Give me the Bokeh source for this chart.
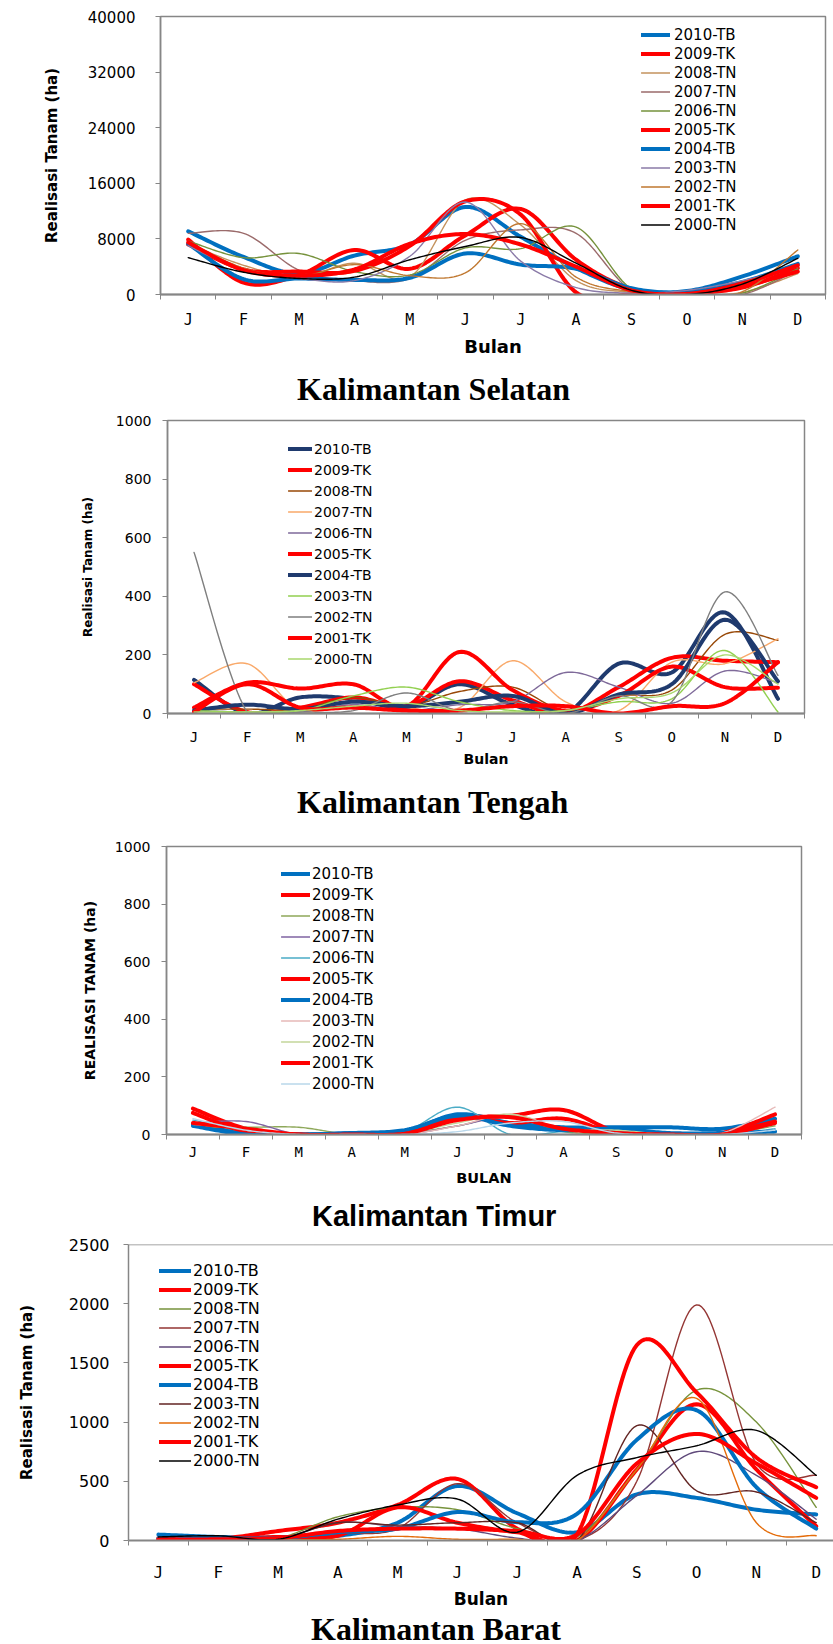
import numpy as np
from bokeh.plotting import figure
from bokeh.models import FixedTicker, Legend, LegendItem, Span, Range1d, LinearAxis, Div
from bokeh.embed import file_html
from bokeh.resources import INLINE

MONTHS = ["J", "F", "M", "A", "M", "J", "J", "A", "S", "O", "N", "D"]
SERIES = ["2010-TB", "2009-TK", "2008-TN", "2007-TN", "2006-TN", "2005-TK",
          "2004-TB", "2003-TN", "2002-TN", "2001-TK", "2000-TN"]

# ---------------- Kalimantan Selatan ----------------
SEL_TICKS = [0, 8000, 16000, 24000, 32000, 40000]
sel_2010_tb = [9100, 5400, 3000, 5600, 7200, 12600, 8300, 3800, 700, 500, 2600, 5500]
sel_2009_tk = [7900, 1700, 2800, 6400, 3700, 8500, 12300, 5000, 800, 200, 1000, 3800]
sel_2008_tn = [7300, 4200, 2500, 4500, 2500, 13600, 10000, 2000, 300, 0, 300, 3000]
sel_2007_tn = [8800, 8800, 3500, 2000, 2300, 7800, 9300, 8800, 600, 0, 0, 3500]
sel_2006_tn = [7700, 5300, 5900, 3300, 2800, 6700, 6600, 9700, 800, 0, 200, 3700]
sel_2005_tk = [7200, 3600, 3300, 3400, 7000, 13400, 11500, 300, 0, 200, 1200, 3300]
sel_2004_tb = [7300, 2200, 2300, 2100, 2400, 5900, 4300, 3700, 900, 300, 1800, 4400]
sel_2003_tn = [7000, 3500, 2300, 2000, 5500, 13300, 4800, 1000, 200, 600, 2000, 4000]
sel_2002_tn = [7500, 3800, 2600, 4300, 2700, 3100, 10200, 2500, 400, 0, 400, 6400]
sel_2001_tk = [7500, 3500, 2700, 3600, 7300, 8700, 7200, 4000, 600, 100, 1600, 4200]
sel_2000_tn = [5300, 3200, 2300, 2500, 5000, 6900, 8200, 4500, 600, 0, 1500, 5200]

# ---------------- Kalimantan Tengah ----------------
TEN_TICKS = [0, 200, 400, 600, 800, 1000]
ten_2010_tb = [115, 0, 55, 50, 20, 100, 30, 0, 170, 140, 345, 50]
ten_2009_tk = [100, 5, 20, 55, 25, 110, 45, 0, 90, 190, 180, 175]
ten_2008_tn = [15, 15, 15, 55, 25, 75, 90, 10, 60, 80, 270, 250]
ten_2007_tn = [105, 170, 10, 45, 20, 20, 180, 40, 10, 175, 170, 255]
ten_2006_tn = [10, 5, 5, 30, 10, 30, 40, 140, 90, 35, 145, 105]
ten_2005_tk = [20, 105, 85, 100, 25, 210, 80, 10, 60, 160, 90, 88]
ten_2004_tb = [10, 30, 15, 40, 25, 40, 60, 0, 65, 100, 320, 110]
ten_2003_tn = [10, 5, 10, 60, 90, 40, 10, 10, 40, 50, 215, 5]
ten_2002_tn = [550, 5, 5, 10, 70, 10, 40, 0, 60, 40, 415, 130]
ten_2001_tk = [5, 100, 20, 20, 10, 10, 25, 25, 0, 25, 35, 175]
ten_2000_tn = [5, 5, 10, 25, 35, 10, 5, 10, 50, 70, 200, 100]

# ---------------- Kalimantan Timur ----------------
TIM_TICKS = [0, 200, 400, 600, 800, 1000]
tim_2010_tb = [35, 5, 0, 5, 10, 70, 40, 25, 25, 25, 20, 55]
tim_2009_tk = [90, 20, 0, 0, 5, 55, 65, 85, 10, 0, 5, 70]
tim_2008_tn = [25, 25, 25, 0, 5, 30, 65, 10, 5, 0, 0, 30]
tim_2007_tn = [40, 45, 0, 0, 0, 30, 60, 15, 10, 0, 0, 35]
tim_2006_tn = [50, 10, 0, 0, 10, 95, 0, 10, 15, 0, 0, 20]
tim_2005_tk = [75, 10, 0, 0, 5, 60, 40, 55, 5, 0, 5, 45]
tim_2004_tb = [30, 0, 0, 5, 15, 65, 30, 15, 20, 5, 5, 10]
tim_2003_tn = [45, 15, 0, 0, 0, 30, 70, 20, 5, 0, 5, 95]
tim_2002_tn = [35, 20, 0, 0, 5, 40, 70, 20, 15, 0, 0, 35]
tim_2001_tk = [40, 20, 0, 0, 3, 50, 60, 20, 5, 0, 0, 40]
tim_2000_tn = [55, 15, 0, 0, 0, 10, 40, 45, 5, 0, 0, 15]

# ---------------- Kalimantan Barat ----------------
BAR_TICKS = [0, 500, 1000, 1500, 2000, 2500]
bar_2010_tb = [50, 30, 25, 40, 150, 460, 230, 70, 390, 360, 260, 220]
bar_2009_tk = [20, 15, 80, 150, 300, 520, 100, 0, 600, 1150, 600, 120]
bar_2008_tn = [10, 20, 20, 200, 280, 260, 100, 30, 600, 1270, 1000, 280]
bar_2007_tn = [10, 10, 20, 60, 100, 480, 150, 0, 500, 1990, 650, 550]
bar_2006_tn = [10, 10, 10, 150, 120, 100, 20, 0, 380, 750, 550, 180]
bar_2005_tk = [10, 10, 30, 40, 280, 150, 70, 50, 1650, 1250, 700, 450]
bar_2004_tb = [20, 20, 20, 70, 100, 240, 155, 225, 850, 1100, 450, 100]
bar_2003_tn = [10, 15, 15, 150, 130, 150, 150, 0, 970, 420, 410, 150]
bar_2002_tn = [5, 5, 5, 10, 35, 10, 10, 0, 600, 1200, 150, 40]
bar_2001_tk = [10, 10, 20, 80, 100, 100, 80, 50, 650, 900, 650, 360]
bar_2000_tn = [30, 40, 10, 180, 300, 350, 70, 550, 700, 800, 930, 550]

RED = "#FF0000"
BLUE = "#0070C0"
NAVY = "#1F3A6E"
THICK = 4
THIN = 1.4
GREY = "#868686"

PANELS = [
    dict(data=[sel_2010_tb, sel_2009_tk, sel_2008_tn, sel_2007_tn, sel_2006_tn, sel_2005_tk,
               sel_2004_tb, sel_2003_tn, sel_2002_tn, sel_2001_tk, sel_2000_tn],
         colors=[BLUE, RED, "#C4935E", "#9B6B6B", "#76923C", RED, BLUE, "#8B7BA8", "#C07830", RED, "#000000"],
         ticks=SEL_TICKS, title="Kalimantan Selatan", ylabel="Realisasi Tanam (ha)", xlabel="Bulan",
         H=362, top=16, bottom=294, left=160, right=825, x_end=12,
         ytick_size="15px", ylab_size="15px", xtick_size="15px", xlab_size="18px",
         ystand=20, ylab_stand=24, xstand=11, xlab_stand=4,
         title_font="Liberation Serif", title_size="32px", title_left=297, title_h=48, title_pad=11,
         leg_vx=481, leg_vy=60, leg_pitch=19, leg_gw=29, leg_ls=4, leg_size="15px"),
    dict(data=[ten_2010_tb, ten_2009_tk, ten_2008_tn, ten_2007_tn, ten_2006_tn, ten_2005_tk,
               ten_2004_tb, ten_2003_tn, ten_2002_tn, ten_2001_tk, ten_2000_tn],
         colors=[NAVY, RED, "#984807", "#F9A96A", "#7F6A9A", RED, NAVY, "#92D050", "#7F7F7F", RED, "#A9D86E"],
         ticks=TEN_TICKS, title="Kalimantan Tengah", ylabel="Realisasi Tanam (ha)", xlabel="Bulan",
         H=368, top=10, bottom=303, left=167, right=804, x_end=12,
         ytick_size="14px", ylab_size="12px", xtick_size="14px", xlab_size="14px",
         ystand=11, ylab_stand=18, xstand=10, xlab_stand=3,
         title_font="Liberation Serif", title_size="32px", title_left=297, title_h=47, title_pad=8,
         leg_vx=121, leg_vy=44, leg_pitch=21, leg_gw=24, leg_ls=2, leg_size="14px"),
    dict(data=[tim_2010_tb, tim_2009_tk, tim_2008_tn, tim_2007_tn, tim_2006_tn, tim_2005_tk,
               tim_2004_tb, tim_2003_tn, tim_2002_tn, tim_2001_tk, tim_2000_tn],
         colors=[BLUE, RED, "#8EA85A", "#8064A2", "#4BACC6", RED, BLUE, "#E6B9B8", "#C3D69B", RED, "#B9D7EA"],
         ticks=TIM_TICKS, title="Kalimantan Timur", ylabel="REALISASI TANAM (ha)", xlabel="BULAN",
         H=367, top=21, bottom=309, left=166, right=801, x_end=12,
         ytick_size="14px", ylab_size="14px", xtick_size="14px", xlab_size="14.5px",
         ystand=11, ylab_stand=14, xstand=4, xlab_stand=7,
         title_font="Liberation Sans", title_size="29px", title_left=312, title_h=44, title_pad=10,
         leg_vx=115, leg_vy=40, leg_pitch=21, leg_gw=29, leg_ls=2, leg_size="15px"),
    dict(data=[bar_2010_tb, bar_2009_tk, bar_2008_tn, bar_2007_tn, bar_2006_tn, bar_2005_tk,
               bar_2004_tb, bar_2003_tn, bar_2002_tn, bar_2001_tk, bar_2000_tn],
         colors=[BLUE, RED, "#77933C", "#943634", "#604A7B", RED, BLUE, "#632523", "#E46C0A", RED, "#000000"],
         ticks=BAR_TICKS, title="Kalimantan Barat", ylabel="Realisasi Tanam (ha)", xlabel="Bulan",
         H=376, top=8, bottom=304, left=128, right=833, x_end=705 / 59.8,
         ytick_size="16px", ylab_size="15px", xtick_size="16px", xlab_size="17px",
         ystand=14, ylab_stand=30, xstand=17, xlab_stand=4,
         title_font="Liberation Serif", title_size="32px", title_left=311, title_h=32, title_pad=1,
         leg_vx=31, leg_vy=70, leg_pitch=19, leg_gw=32, leg_ls=2, leg_size="16px"),
]


def smooth(vals, n=24):
    pts = [(i + 0.5, float(v)) for i, v in enumerate(vals)]
    N = len(pts)
    xs, ys = [], []
    for i in range(N - 1):
        p0 = np.array(pts[max(i - 1, 0)])
        p1 = np.array(pts[i])
        p2 = np.array(pts[i + 1])
        p3 = np.array(pts[min(i + 2, N - 1)])
        for t in np.linspace(0, 1, n, endpoint=False):
            q = 0.5 * (2 * p1 + (-p0 + p2) * t + (2 * p0 - 5 * p1 + 4 * p2 - p3) * t ** 2
                       + (-p0 + 3 * p1 - 3 * p2 + p3) * t ** 3)
            xs.append(q[0])
            ys.append(q[1])
    xs.append(pts[-1][0])
    ys.append(pts[-1][1])
    return xs, ys


def make_panel(s):
    p = figure(width=833, height=s["H"], x_range=Range1d(0, s["x_end"]),
               y_range=Range1d(0, s["ticks"][-1]), x_axis_type=None, y_axis_type=None,
               output_backend="svg", toolbar_location=None, title=None,
               min_border_left=s["left"], min_border_right=833 - s["right"],
               min_border_top=s["top"], min_border_bottom=s["H"] - s["bottom"],
               background_fill_color="white", border_fill_color="white")
    if s["right"] >= 833:
        p.outline_line_color = None
        p.add_layout(Span(location=s["ticks"][-1], dimension="width", line_color=GREY, line_width=1.5))
    else:
        p.outline_line_color = GREY
        p.outline_line_width = 1.5

    centers = [i + 0.5 for i in range(12)]
    bounds = list(range(13))
    xaxis = LinearAxis(ticker=FixedTicker(ticks=centers, minor_ticks=bounds),
                       major_label_overrides={c: m for c, m in zip(centers, MONTHS)},
                       major_tick_out=0, major_tick_in=0, minor_tick_out=5, minor_tick_in=0,
                       minor_tick_line_color=GREY, axis_line_color=GREY, axis_line_width=2,
                       major_label_text_font="DejaVu Sans Mono",
                       major_label_text_font_size=s["xtick_size"],
                       major_label_text_color="#000000",
                       major_label_standoff=s["xstand"],
                       axis_label=s["xlabel"], axis_label_text_font="DejaVu Sans",
                       axis_label_text_font_style="bold", axis_label_text_font_size=s["xlab_size"],
                       axis_label_text_color="#000000", axis_label_standoff=s["xlab_stand"])
    p.add_layout(xaxis, "below")

    yaxis = LinearAxis(ticker=FixedTicker(ticks=s["ticks"], minor_ticks=[]),
                       major_tick_out=5, major_tick_in=0, major_tick_line_color=GREY,
                       axis_line_color=GREY, axis_line_width=1.5,
                       major_label_text_font="DejaVu Sans",
                       major_label_text_font_size=s["ytick_size"],
                       major_label_text_color="#000000",
                       major_label_standoff=s["ystand"],
                       axis_label=s["ylabel"], axis_label_text_font="DejaVu Sans",
                       axis_label_text_font_style="bold", axis_label_text_font_size=s["ylab_size"],
                       axis_label_text_color="#000000", axis_label_standoff=s["ylab_stand"])
    p.add_layout(yaxis, "left")

    items = []
    for name, vals, col in zip(SERIES, s["data"], s["colors"]):
        thick = name.endswith("TB") or name.endswith("TK")
        xs, ys = smooth(vals)
        r = p.line(xs, ys, line_color=col, line_width=THICK if thick else THIN,
                   line_join="round", line_cap="round")
        items.append(LegendItem(label=name, renderers=[r]))
    legend = Legend(items=items, location=(s["leg_vx"], s["leg_vy"]), padding=0, margin=0,
                    spacing=0, glyph_height=s["leg_pitch"], label_height=s["leg_pitch"],
                    glyph_width=s["leg_gw"], label_standoff=s["leg_ls"],
                    label_text_font="DejaVu Sans", label_text_font_size=s["leg_size"],
                    label_text_color="#000000", border_line_color=None,
                    background_fill_alpha=0.0)
    p.add_layout(legend)

    html = ('<div style="font-family: \'%s\'; font-size: %s; font-weight: bold; color: #000; '
            'line-height: %s; margin: 0; padding: %dpx 0 0 %dpx; white-space: nowrap;">%s</div>'
            % (s["title_font"], s["title_size"], s["title_size"], s["title_pad"], s["title_left"], s["title"]))
    caption = Div(text=html, width=833, height=s["title_h"], margin=0)
    return [p, caption]


roots = []
for s in PANELS:
    roots.extend(make_panel(s))
open("out.html", "w").write(file_html(roots, INLINE))
